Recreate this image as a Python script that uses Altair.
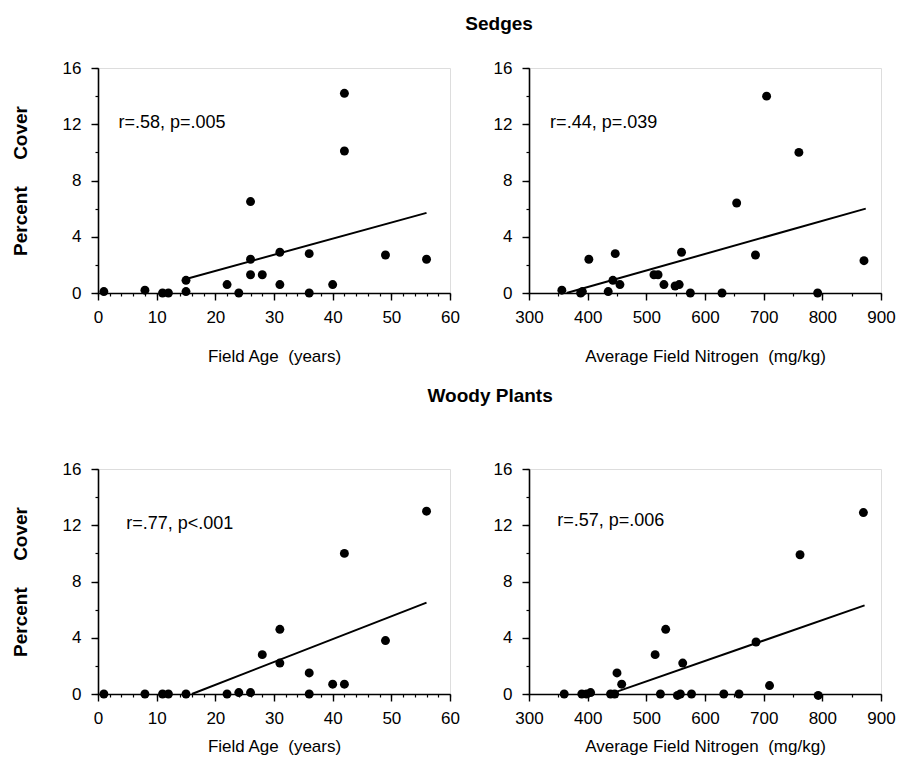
import altair as alt
import pandas as pd

# ---- data ----
sedge_age_x = [1, 8, 11, 12, 15, 15, 22, 24, 26, 26, 26, 28, 31, 31, 36, 36, 40, 42, 42, 49, 56]
sedge_age_y = [0.1, 0.2, 0, 0, 0.1, 0.9, 0.6, 0, 6.5, 2.4, 1.3, 1.3, 2.9, 0.6, 2.8, 0, 0.6, 14.2, 10.1, 2.7, 2.4]

sedge_n_x = [356, 388, 391, 402, 435, 443, 447, 455, 513, 520, 530, 549, 556, 560, 575, 629, 654, 686, 705, 760, 792, 871]
sedge_n_y = [0.2, 0, 0.1, 2.4, 0.1, 0.9, 2.8, 0.6, 1.3, 1.3, 0.6, 0.5, 0.6, 2.9, 0, 0, 6.4, 2.7, 14.0, 10.0, 0, 2.3]

woody_age_x = [1, 8, 11, 12, 15, 22, 24, 26, 28, 31, 31, 36, 36, 40, 42, 42, 49, 56]
woody_age_y = [0, 0, 0, 0, 0, 0, 0.1, 0.1, 2.8, 4.6, 2.2, 1.5, 0, 0.7, 0.7, 10.0, 3.8, 13.0]

woody_n_x = [360, 390, 398, 405, 439, 446, 450, 458, 515, 524, 533, 553, 558, 562, 577, 632, 658, 687, 710, 762, 793, 870]
woody_n_y = [0, 0, 0, 0.1, 0, 0, 1.5, 0.7, 2.8, 0, 4.6, -0.1, 0, 2.2, 0, 0, 0, 3.7, 0.6, 9.9, -0.1, 12.9]

# fitted line end points
fit_sedge_age = ([15, 56], [1.0, 5.7])
fit_sedge_n = ([364, 874], [0.0, 6.0])
fit_woody_age = ([16, 56], [0.0, 6.5])
fit_woody_n = ([445, 872], [0.1, 6.3])

stat_labels = ["r=.58, p=.005", "r=.44, p=.039", "r=.77, p<.001", "r=.57, p=.006"]
stat_pos = [(3.5, 12.1), (336, 12.1), (4.8, 12.1), (348, 12.3)]

# axis tick values
age_major = [0, 10, 20, 30, 40, 50, 60]
age_minor = list(range(0, 61, 2))
n_major = [300, 400, 500, 600, 700, 800, 900]
n_minor = list(range(300, 901, 50))
y_major = [0, 4, 8, 12, 16]
y_minor = list(range(0, 17, 2))

FONT = "Liberation Sans"
W, H = 352, 225
AX = dict(domainColor="black", domainWidth=1.6, tickColor="black", tickWidth=1.4,
          labelColor="black", titleColor="black", grid=False)


def panel(xs, ys, fit, label, lpos, xdom, xmaj, xmin, xtitle, show_ytitle, xtitle_pad):
    pts = pd.DataFrame({"x": xs, "y": ys})
    ln = pd.DataFrame({"x": fit[0], "y": fit[1]})
    tx = pd.DataFrame({"x": [lpos[0]], "y": [lpos[1]], "t": [label]})

    xscale = alt.Scale(domain=list(xdom), nice=False, zero=False)
    yscale = alt.Scale(domain=[0, 16], nice=False)
    xaxis = alt.Axis(
        title=xtitle, values=xmaj, orient="bottom",
        labelOverlap=False, labelFlush=False, tickSize=7,
        labelFontSize=17, labelFont=FONT, labelPadding=9,
        titleFont=FONT, titleFontSize=17, titleFontWeight="normal", titlePadding=xtitle_pad,
        **AX,
    )
    yaxis = alt.Axis(
        title=("Percent" + "\u00a0" * 5 + "Cover" if show_ytitle else None),
        values=y_major, orient="left",
        labelOverlap=False, labelFlush=False, tickSize=7,
        labelFontSize=17, labelFont=FONT, labelPadding=10,
        titleFont=FONT, titleFontSize=19, titleFontWeight="bold", titlePadding=32,
        **AX,
    )
    xaxis_minor = alt.Axis(title=None, values=xmin, orient="bottom", labels=False,
                           domain=False, tickSize=3, tickColor="black", tickWidth=1.2, grid=False)
    yaxis_minor = alt.Axis(title=None, values=y_minor, orient="left", labels=False,
                           domain=False, tickSize=3, tickColor="black", tickWidth=1.2, grid=False)

    base_pts = alt.Chart(pts).mark_circle(size=80, color="black", opacity=1).encode(
        x=alt.X("x:Q", scale=xscale, axis=xaxis),
        y=alt.Y("y:Q", scale=yscale, axis=yaxis),
    )
    line = alt.Chart(ln).mark_line(color="black", strokeWidth=2).encode(
        x=alt.X("x:Q", scale=xscale, axis=xaxis_minor),
        y=alt.Y("y:Q", scale=yscale, axis=yaxis_minor),
    )
    text = alt.Chart(tx).mark_text(
        align="left", baseline="middle", font=FONT, fontSize=18, color="black"
    ).encode(x=alt.X("x:Q", scale=xscale, axis=None),
             y=alt.Y("y:Q", scale=yscale, axis=None), text="t:N")
    return alt.layer(base_pts, line, text).resolve_axis(
        x="independent", y="independent").properties(width=W, height=H)


p1 = panel(sedge_age_x, sedge_age_y, fit_sedge_age, stat_labels[0], stat_pos[0],
           (0, 60), age_major, age_minor, "Field Age\u00a0\u00a0(years)", True, 23)
p2 = panel(sedge_n_x, sedge_n_y, fit_sedge_n, stat_labels[1], stat_pos[1],
           (300, 900), n_major, n_minor, "Average Field Nitrogen\u00a0\u00a0(mg/kg)", False, 23)
p3 = panel(woody_age_x, woody_age_y, fit_woody_age, stat_labels[2], stat_pos[2],
           (0, 60), age_major, age_minor, "Field Age\u00a0\u00a0(years)", True, 12)
p4 = panel(woody_n_x, woody_n_y, fit_woody_n, stat_labels[3], stat_pos[3],
           (300, 900), n_major, n_minor, "Average Field Nitrogen\u00a0\u00a0(mg/kg)", False, 12)

row1 = alt.hconcat(p1, p2, spacing=32).properties(
    title=alt.TitleParams("Sedges", fontSize=19, fontWeight="bold", font=FONT,
                          anchor="middle", offset=25, dx=46, color="black"))
row2 = alt.hconcat(p3, p4, spacing=32).properties(
    title=alt.TitleParams("Woody Plants", fontSize=19, fontWeight="bold", font=FONT,
                          anchor="middle", offset=54, dx=37, color="black"))

chart = alt.vconcat(row1, row2, spacing=21).properties(
    padding={"left": 10, "top": 14, "right": 5, "bottom": 5}
).configure_view(stroke=None).configure(background="white")

chart.save("out.html", embed_options={"renderer": "svg", "actions": False})
